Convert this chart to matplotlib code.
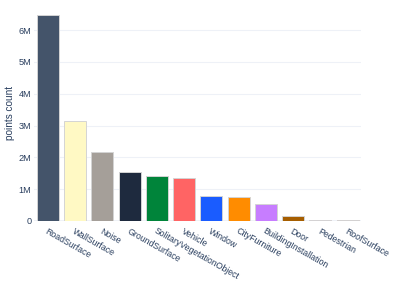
import matplotlib
matplotlib.use("Agg")
import matplotlib.pyplot as plt
from matplotlib.ticker import FuncFormatter

# ----------------------------
# DATA
# ----------------------------
categories = ["RoadSurface", "WallSurface", "Noise", "GroundSurface",
              "SolitaryVegetationObject", "Vehicle", "Window", "CityFurniture",
              "BuildingInstallation", "Door", "Pedestrian", "RoofSurface"]
points = [6.47e6, 3.13e6, 2.16e6, 1.55e6, 1.42e6, 1.34e6,
          0.80e6, 0.755e6, 0.525e6, 0.148e6, 0.04e6, 0.018e6]
colors = ["#44546A", "#FFF9C4", "#A59F99", "#1E2A3E", "#00843A", "#FF6464",
          "#1A5CFF", "#FF8C00", "#C77DFF", "#A65E00", "#D9739C", "#A51C30"]
yticks = [0, 1e6, 2e6, 3e6, 4e6, 5e6, 6e6]

text_color = "#2a3f5f"
plt.rcParams["font.family"] = ["Liberation Sans", "DejaVu Sans"]

# ----------------------------
# PLOT
# ----------------------------
fig = plt.figure(figsize=(3.97, 2.83), dpi=100)
ax = fig.add_axes([34.3 / 397, 62 / 283, 327 / 397, 216 / 283])

x = list(range(len(categories)))
ax.bar(x, points, width=0.81, color=colors, edgecolor="#d4d4d4", linewidth=0.7, zorder=3)

ax.set_xlim(-0.5, len(categories) - 0.5)
ax.set_ylim(0, 6.79e6)
ax.set_yticks(yticks)
ax.yaxis.set_major_formatter(FuncFormatter(lambda v, p: "0" if v == 0 else f"{v / 1e6:.0f}M"))
ax.grid(axis="y", color="#eef1f7", linewidth=0.8, zorder=0)
ax.axhline(0, color="#eef1f7", linewidth=1.2, zorder=1)

for s in ax.spines.values():
    s.set_visible(False)
ax.tick_params(length=0, colors=text_color)
ax.tick_params(axis="y", pad=2, labelsize=6.6)

ax.set_xticks(x)
ax.set_xticklabels(categories, rotation=-29.5, ha="left", rotation_mode="anchor")
ax.tick_params(axis="x", pad=4, labelsize=6.3)

ax.set_ylabel("points count", color=text_color, fontsize=7.2)
ax.yaxis.set_label_coords(-0.058, 0.5)

fig.savefig("out.png", dpi=100)
